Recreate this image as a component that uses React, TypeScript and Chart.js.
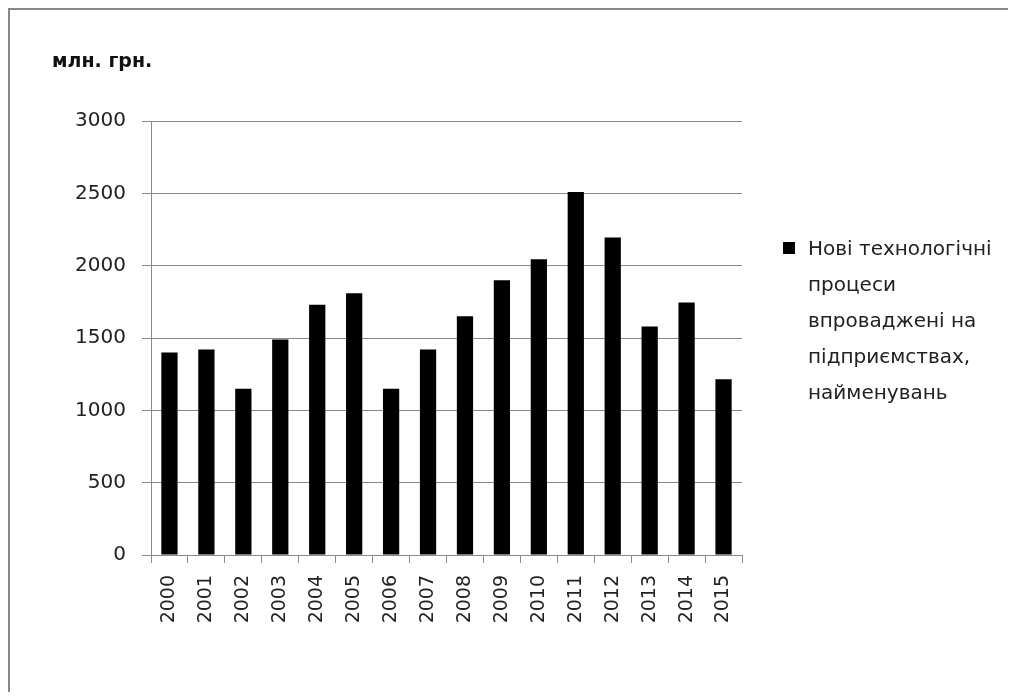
import React, { useEffect, useRef } from "react";
import { Chart, registerables } from "chart.js";

Chart.register(...registerables);

const categories = ["2000", "2001", "2002", "2003", "2004", "2005", "2006", "2007", "2008", "2009", "2010", "2011", "2012", "2013", "2014", "2015"];
const seriesValues = [1400, 1420, 1150, 1490, 1730, 1810, 1150, 1420, 1650, 1900, 2045, 2510, 2195, 1580, 1745, 1215];
const seriesName = "Нові технологічні процеси впроваджені на підприємствах, найменувань";
const legendLines = ["Нові технологічні", "процеси", "впроваджені на", "підприємствах,", "найменувань"];
const unitLabel = "млн. грн.";
const yMin = 0;
const yMax = 3000;
const yStep = 500;

const FONT = "'DejaVu Sans', sans-serif";

export default function App() {
  const canvasRef = useRef<HTMLCanvasElement | null>(null);

  useEffect(() => {
    if (!canvasRef.current) return;
    const chart = new Chart(canvasRef.current, {
      type: "bar",
      data: {
        labels: categories,
        datasets: [
          {
            label: seriesName,
            data: seriesValues,
            backgroundColor: "#000000",
            borderWidth: 0,
            categoryPercentage: 1,
            barPercentage: 0.44,
          },
        ],
      },
      options: {
        animation: false,
        responsive: false,
        maintainAspectRatio: false,
        layout: { padding: { top: 111, right: 274, left: 0, bottom: 0 } },
        plugins: {
          legend: { display: false },
          tooltip: { enabled: false },
          title: { display: false },
        },
        scales: {
          x: {
            offset: true,
            grid: {
              offset: true,
              drawOnChartArea: false,
              drawTicks: true,
              tickLength: 8,
              color: "#8a8a8a",
              lineWidth: 1,
            },
            border: { display: true, color: "#8a8a8a", width: 1 },
            ticks: {
              autoSkip: false,
              minRotation: 90,
              maxRotation: 90,
              padding: 12,
              color: "#222222",
              font: { family: FONT, size: 19 },
            },
            afterFit: (scale: any) => {
              scale.height = 137;
            },
          },
          y: {
            min: yMin,
            max: yMax,
            ticks: {
              stepSize: yStep,
              padding: 16,
              color: "#222222",
              font: { family: FONT, size: 20 },
              callback: (v: any) => String(v),
            },
            grid: {
              color: "#8a8a8a",
              lineWidth: 1,
              tickLength: 9,
            },
            border: { display: true, color: "#8a8a8a", width: 1 },
            afterFit: (scale: any) => {
              scale.width = 141;
            },
          },
        },
      },
    });
    return () => chart.destroy();
  }, []);

  return (
    <div style={{ position: "relative", width: 1008, height: 684 }}>
      <div
        style={{
          position: "absolute",
          left: 0,
          top: 0,
          width: 1008,
          height: 2,
          background: "#878787",
        }}
      />
      <div
        style={{
          position: "absolute",
          left: 0,
          top: 0,
          width: 2,
          height: 684,
          background: "#878787",
        }}
      />
      <canvas
        ref={canvasRef}
        width={1006}
        height={682}
        style={{ position: "absolute", left: 2, top: 2, width: 1006, height: 682 }}
      />
      <div
        style={{
          position: "absolute",
          left: 44,
          top: 41,
          fontFamily: FONT,
          fontWeight: "bold",
          fontSize: 19,
          color: "#111111",
          whiteSpace: "nowrap",
        }}
      >
        {unitLabel}
      </div>
      <div style={{ position: "absolute", left: 775, top: 234, width: 12, height: 12, background: "#000000" }} />
      <div
        style={{
          position: "absolute",
          left: 800,
          top: 222,
          fontFamily: FONT,
          fontSize: 20,
          lineHeight: "36px",
          color: "#222222",
          whiteSpace: "nowrap",
        }}
      >
        {legendLines.map((l, i) => (
          <div key={i}>{l}</div>
        ))}
      </div>
    </div>
  );
}
